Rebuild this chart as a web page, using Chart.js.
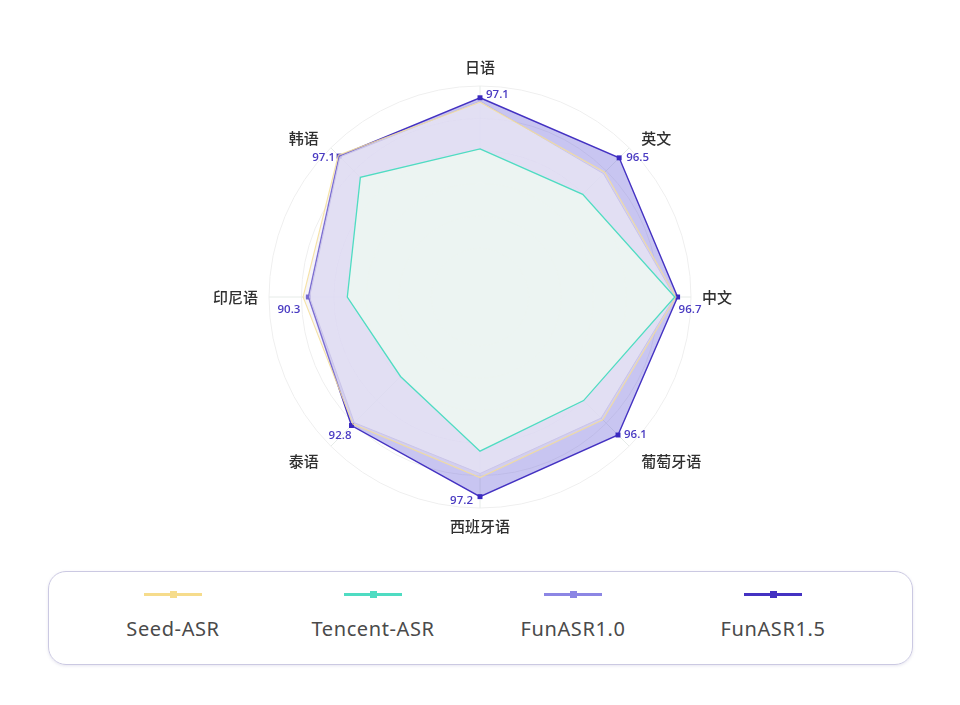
<!DOCTYPE html>
<html>
<head>
<meta charset="utf-8">
<script src="https://cdn.jsdelivr.net/npm/chart.js@4.4.1/dist/chart.umd.min.js"></script>
<style>
  html, body { margin: 0; padding: 0; background: #fff; }
  #wrap { position: relative; width: 960px; height: 705px; overflow: hidden; }
  #chart-box { position: absolute; left: 0; top: 58px; width: 960px; height: 478px; }
  #legend {
    position: absolute; left: 48px; top: 571px; width: 865px; height: 94px;
    box-sizing: border-box; border: 1.5px solid #cbc9e2; border-radius: 18px;
    box-shadow: 0 1px 3px rgba(120, 115, 170, 0.18);
  }
  .lg-item { position: absolute; top: 0; width: 200px; margin-left: -100px; text-align: center; }
  .lg-sym { position: relative; width: 58px; height: 2.5px; margin: 21px auto 0; }
  .lg-sym span { position: absolute; left: 25.5px; top: -2.5px; width: 7px; height: 7px; }
  .lg-text { margin-top: 19px; font-family: 'Noto Sans', sans-serif; font-size: 20px; letter-spacing: 0.6px; color: #4a4a4a; }
</style>
</head>
<body>
<div id="wrap">
  <div id="chart-box"><canvas id="radar"></canvas></div>
  <div id="legend"></div>
</div>
<script>
// 语种顺序：从正上方顺时针
const LANGUAGES = ['日语', '英文', '中文', '葡萄牙语', '西班牙语', '泰语', '印尼语', '韩语'];
const SERIES_NAMES = ['Seed-ASR', 'Tencent-ASR', 'FunASR1.0', 'FunASR1.5'];

const SEED_ASR = [96.0, 91.5, 96.3, 90.8, 92.5, 92.3, 91.6, 97.4];
const TENCENT_ASR = [84.5, 83.8, 96.0, 84.1, 86.0, 75.7, 80.7, 89.7];
const FUNASR_10 = [96.3, 91.0, 96.0, 90.2, 91.5, 91.8, 90.0, 96.8];
const FUNASR_15 = [97.1, 96.5, 96.7, 96.1, 97.2, 92.8, 90.3, 97.1];

// 径向刻度（网格圆）
const RING_TICKS = [48, 60, 68, 76, 84, 92, 100];

const LINE_COLORS = ['#f6dc8c', '#4fdcc2', '#8c86e4', '#4432c2'];

// FunASR1.5 数值标签的位置偏移
const VALUE_LABEL_POS = [
  { dx: 6, dy: -3, align: 'left' },
  { dx: 7, dy: 0, align: 'left' },
  { dx: 1, dy: 13, align: 'left' },
  { dx: 6, dy: 0, align: 'left' },
  { dx: -7, dy: 4, align: 'right' },
  { dx: 0, dy: 10, align: 'right' },
  { dx: -8, dy: 13, align: 'right' },
  { dx: -4, dy: 2, align: 'right' }
];

const valueLabelPlugin = {
  id: 'valueLabels',
  afterDatasetsDraw(chart) {
    const idx = chart.data.datasets.findIndex((d) => d.label === 'FunASR1.5');
    const meta = chart.getDatasetMeta(idx);
    const ctx = chart.ctx;
    ctx.save();
    ctx.font = '600 11.5px "Open Sans", sans-serif';
    ctx.fillStyle = '#4a3bc2';
    ctx.textBaseline = 'middle';
    meta.data.forEach((pt, i) => {
      const pos = VALUE_LABEL_POS[i];
      ctx.textAlign = pos.align;
      ctx.fillText(FUNASR_15[i].toFixed(1), pt.x + pos.dx, pt.y + pos.dy);
    });
    ctx.restore();
  }
};

// 语种标签自己画：斜向的标签按垂直居中贴近轴线（Chart.js 默认会把它们抬高）
const axisLabelPlugin = {
  id: 'axisLabels',
  afterDraw(chart) {
    const scale = chart.scales.r;
    const ctx = chart.ctx;
    ctx.save();
    ctx.font = '500 15px "Noto Sans CJK SC", sans-serif';
    ctx.fillStyle = '#2f2f2f';
    scale._pointLabels.forEach((text, i) => {
      const a = scale.getIndexAngle(i);
      const s = Math.sin(a), c = Math.cos(a);
      const diag = Math.abs(s) > 0.1 && Math.abs(c) > 0.1;
      const p = scale.getPointPosition(i, scale.drawingArea + (diag ? 17 : 11));
      ctx.textAlign = Math.abs(s) < 0.1 ? 'center' : (s > 0 ? 'left' : 'right');
      ctx.textBaseline = c > 0.9 ? 'bottom' : (c < -0.9 ? 'top' : 'middle');
      ctx.fillText(text, p.x, p.y + (diag ? 3 : 0));
    });
    ctx.restore();
  }
};

new Chart(document.getElementById('radar'), {
  type: 'radar',
  data: {
    labels: LANGUAGES,
    datasets: [
      {
        label: 'Tencent-ASR', data: TENCENT_ASR, order: 1,
        borderColor: LINE_COLORS[1], borderWidth: 1.3,
        backgroundColor: 'rgba(237, 245, 241, 0.94)', fill: true,
        pointRadius: 0
      },
      {
        label: 'Seed-ASR', data: SEED_ASR, order: 2,
        borderColor: 'rgba(244, 222, 150, 0.85)', borderWidth: 1.1,
        backgroundColor: 'rgba(228, 224, 238, 0.35)', fill: true,
        pointRadius: 0
      },
      {
        label: 'FunASR1.0', data: FUNASR_10, order: 3,
        borderColor: 'rgba(185, 180, 228, 0.9)', borderWidth: 1,
        backgroundColor: 'rgba(238, 236, 250, 0.65)', fill: true,
        pointRadius: 0
      },
      {
        label: 'FunASR1.5', data: FUNASR_15, order: 4,
        borderColor: LINE_COLORS[3], borderWidth: 1.4,
        backgroundColor: 'rgba(118, 110, 220, 0.4)', fill: true,
        pointStyle: 'rect', pointRadius: 3.5,
        pointBackgroundColor: '#3a29c0', pointBorderColor: '#3a29c0', pointBorderWidth: 0
      }
    ]
  },
  options: {
    responsive: true,
    maintainAspectRatio: false,
    animation: false,
    layout: { padding: 0 },
    elements: { line: { tension: 0 } },
    plugins: { legend: { display: false }, tooltip: { enabled: false } },
    scales: {
      r: {
        min: RING_TICKS[0],
        max: RING_TICKS[RING_TICKS.length - 1],
        afterBuildTicks: (scale) => { scale.ticks = RING_TICKS.map((v) => ({ value: v })); },
        ticks: { display: false },
        grid: { circular: true, color: '#efefef', lineWidth: 1 },
        angleLines: { color: '#e6ebe8', lineWidth: 1 },
        pointLabels: {
          // 只用来占位（决定半径），真正的文字由 axisLabelPlugin 画
          padding: 10,
          color: 'rgba(0,0,0,0)',
          font: { family: '"Noto Sans CJK SC", sans-serif', size: 15, weight: '500' }
        }
      }
    }
  },
  plugins: [valueLabelPlugin, axisLabelPlugin]
});

// 图例：线段 + 方块标记，名称在下方
const legendEl = document.getElementById('legend');
SERIES_NAMES.forEach((name, i) => {
  const item = document.createElement('div');
  item.className = 'lg-item';
  item.style.left = (124 + i * 200) + 'px';
  item.innerHTML = `<div class="lg-sym" style="background:${LINE_COLORS[i]}"><span style="background:${LINE_COLORS[i]}"></span></div>
    <div class="lg-text">${name}</div>`;
  legendEl.appendChild(item);
});
</script>
</body>
</html>
